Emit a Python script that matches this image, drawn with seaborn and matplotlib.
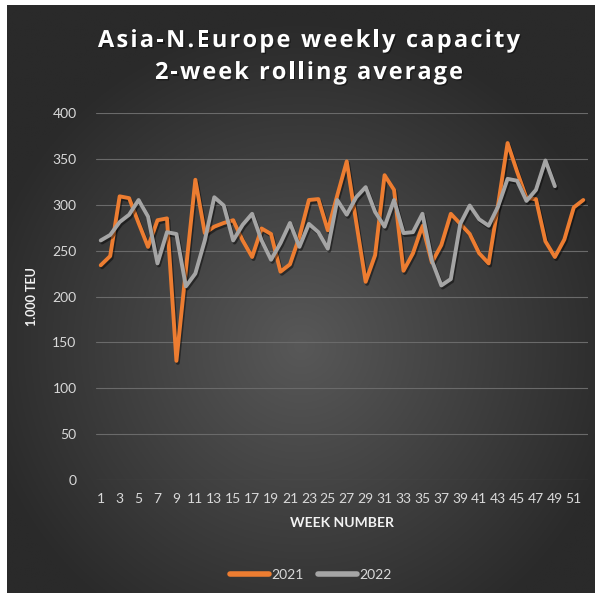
import numpy as np
import pandas as pd
import matplotlib
matplotlib.use("Agg")
import matplotlib.pyplot as plt
import matplotlib.patheffects as pe
from matplotlib import font_manager
from matplotlib.ft2font import FT2Font
import seaborn as sns

# ============================================================
# 数据
# ============================================================
weeks_2021 = list(range(1, 53))
cap_2021 = [234, 244, 309, 307, 280, 254, 283, 285, 130, 229,
            327, 269, 276, 280, 283, 261, 243, 274, 268, 227,
            235, 265, 305, 306, 272, 310, 347, 281, 216, 245,
            332, 316, 228, 247, 277, 237, 256, 290, 279, 268,
            247, 236, 300, 367, 336, 307, 306, 260, 243, 262,
            297, 305]
weeks_2022 = list(range(1, 50))
cap_2022 = [261, 267, 281, 289, 305, 287, 236, 270, 268, 211,
            225, 261, 308, 299, 261, 278, 290, 261, 240, 258,
            280, 254, 279, 270, 252, 305, 289, 308, 319, 292,
            276, 305, 269, 270, 290, 239, 212, 219, 279, 299,
            284, 277, 298, 328, 326, 304, 316, 348, 320]
years = ["2021", "2022"]
y_ticks = [0, 50, 100, 150, 200, 250, 300, 350, 400]
x_ticks = list(range(1, 53, 2))

TITLE_LINES = ["Asia-N.Europe weekly capacity", "2-week rolling average"]
COLORS = {"2021": "#ED7D31", "2022": "#A5A5A5"}
TXT = "#D9D9D9"
W, H = 604, 600
DPI = 100


def tracked_text(fig, line, cx, base_y, size, tracking):
    """带字间距的标题行 (像素坐标, 居中)"""
    fp = font_manager.FontProperties(family="Open Sans", weight="bold")
    font = FT2Font(font_manager.findfont(fp))
    font.set_size(size, DPI)
    adv = [font.load_char(ord(c)).linearHoriAdvance / 65536 for c in line]
    total = sum(adv) + tracking * (len(line) - 1)
    x = cx - total / 2
    for c, a in zip(line, adv):
        if c != " ":
            fig.text(x / W, 1 - base_y / H, c, ha="left", va="baseline",
                     fontsize=size, fontproperties=fp, color="white",
                     path_effects=[pe.withSimplePatchShadow(offset=(1, -1),
                                                            shadow_rgbFace="black", alpha=0.4)])
        x += a + tracking


df = pd.concat([
    pd.DataFrame({"week": weeks_2021, "teu": cap_2021, "year": years[0]}),
    pd.DataFrame({"week": weeks_2022, "teu": cap_2022, "year": years[1]}),
], ignore_index=True)

sns.set_theme(style="white")
plt.rcParams['font.family'] = ['Lato', 'DejaVu Sans']

fig = plt.figure(figsize=(W / DPI, H / DPI), dpi=DPI, facecolor="white")

# 背景: 径向渐变
bg = fig.add_axes([7 / W, 1 - 593 / H, 588 / W, 588 / H])
yy, xx = np.mgrid[0:1:300j, 0:1:300j]
r = np.sqrt(((xx - 0.5) / 0.9) ** 2 + ((yy - 0.58) / 0.9) ** 2)
shade = 0x58 + (0x2A - 0x58) * np.clip(r / 0.62, 0, 1)
img = np.dstack([shade, shade, shade]) / 255.0
bg.imshow(img, aspect="auto", extent=[0, 1, 0, 1], origin="upper")
bg.set_axis_off()

# 主绘图区
ax = fig.add_axes([96 / W, 1 - 480.3 / H, (588 - 96) / W, (480.3 - 112.7) / H])
ax.patch.set_alpha(0)

sns.lineplot(data=df, x="week", y="teu", hue="year", palette=COLORS,
             linewidth=2.8, ax=ax, legend=False, zorder=3)
for ln in ax.lines:
    ln.set_solid_joinstyle("round")
    ln.set_solid_capstyle("round")
    ln.set_path_effects([pe.SimpleLineShadow(offset=(1, -1.5), shadow_color="black", alpha=0.45),
                         pe.Normal()])

ax.set_xlim(0.5, 52.5)
ax.set_ylim(0, 400)
ax.set_yticks(y_ticks)
ax.set_xticks(x_ticks)
ax.set_xticklabels([str(t) for t in x_ticks])
ax.grid(axis="y", color="#6A6A6A", linewidth=0.8)
ax.set_axisbelow(True)
for s in ax.spines.values():
    s.set_visible(False)
ax.tick_params(axis="both", length=0, labelsize=10, colors=TXT)
ax.tick_params(axis="x", pad=9)
ax.tick_params(axis="y", pad=14)

ax.set_xlabel("WEEK NUMBER", fontsize=10, fontweight="bold", color="#F2F2F2", labelpad=9)
ax.set_ylabel("1.000 TEU", fontsize=9, fontweight="bold", color="#F2F2F2", labelpad=10)

# 标题
tracked_text(fig, TITLE_LINES[0], 309, 47, 17, 2.2)
tracked_text(fig, TITLE_LINES[1], 309, 79, 17, 2.0)

# 图例
handles = [plt.Line2D([], [], color=COLORS[y], linewidth=4, solid_capstyle="round") for y in years]
fig.legend(handles, years, loc="center", bbox_to_anchor=(311 / W, 1 - 575 / H), ncol=2,
           frameon=False, fontsize=10, labelcolor=TXT, handlelength=2.8,
           handletextpad=0.2, columnspacing=1.0)

fig.savefig("out.png", dpi=DPI, facecolor="white")
